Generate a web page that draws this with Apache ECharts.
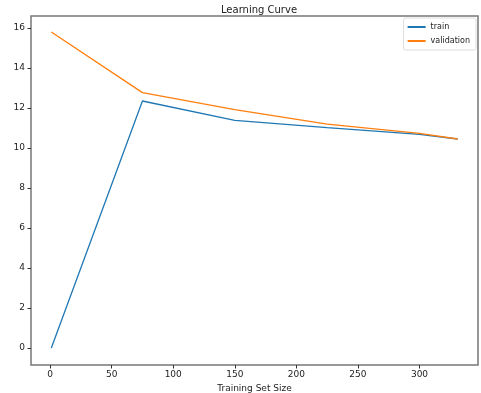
<!DOCTYPE html>
<html><head><meta charset="utf-8">
<script src="https://cdn.jsdelivr.net/npm/echarts@6/dist/echarts.min.js"></script>
<style>html,body{margin:0;padding:0;background:#fff}#c{width:481px;height:393px}</style>
</head><body><div id="c"></div>
<script>
const trainSizes = [1, 75, 150, 225, 300, 331];
const trainRMSE = [0, 12.35, 11.38, 11.02, 10.68, 10.45];
const validationRMSE = [15.8, 12.77, 11.92, 11.19, 10.73, 10.45];
const xTicks = [0, 50, 100, 150, 200, 250, 300];
const yTicks = [0, 2, 4, 6, 8, 10, 12, 14, 16];

const chart = echarts.init(document.getElementById('c'));
const font = 'DejaVu Sans';
chart.setOption({
  animation: false,
  title: {text: 'Learning Curve', left: 254, top: 0, textAlign: 'center',
    textStyle: {fontFamily: font, fontSize: 10, fontWeight: 'normal', color: '#222'}},
  legend: {right: 5, top: 18, orient: 'vertical', itemWidth: 18, itemHeight: 2, itemGap: 6,
    icon: 'rect', backgroundColor: '#fff', borderColor: '#ddd', borderWidth: 1, borderRadius: 2,
    padding: [5, 6, 5, 4],
    textStyle: {fontFamily: font, fontSize: 8, color: '#222'},
    data: ['train', 'validation']},
  grid: {left: 31, right: 3, top: 16, bottom: 28, outerBoundsMode: 'none', containLabel: false,
    show: true, borderColor: '#777', borderWidth: 1.5},
  xAxis: {type: 'value', min: -15.5, max: 347.5,
    name: 'Training Set Size', nameLocation: 'middle', nameGap: 14,
    nameTextStyle: {fontFamily: font, fontSize: 9, color: '#222'},
    axisLine: {show: false, onZero: false}, splitLine: {show: false},
    axisTick: {show: true, length: 3.5, inside: false, customValues: xTicks, lineStyle: {color: '#333'}},
    axisLabel: {customValues: xTicks, fontFamily: font, fontSize: 9, color: '#222', margin: 5}},
  yAxis: {type: 'value', min: -0.85, max: 16.6,
    name: 'RMSE', nameLocation: 'middle', nameGap: 23, nameRotate: 90,
    nameTextStyle: {fontFamily: font, fontSize: 9, color: '#222'},
    axisLine: {show: false, onZero: false}, splitLine: {show: false},
    axisTick: {show: true, length: 3.5, inside: false, customValues: yTicks, lineStyle: {color: '#333'}},
    axisLabel: {customValues: yTicks, fontFamily: font, fontSize: 9, color: '#222', margin: 6}},
  series: [
    {name: 'train', type: 'line', data: trainSizes.map((x, i) => [x, trainRMSE[i]]),
      showSymbol: false, symbol: 'none', color: '#1f77b4', lineStyle: {width: 1.3, color: '#1f77b4'}},
    {name: 'validation', type: 'line', data: trainSizes.map((x, i) => [x, validationRMSE[i]]),
      showSymbol: false, symbol: 'none', color: '#ff7f0e', lineStyle: {width: 1.3, color: '#ff7f0e'}}
  ]
});
</script></body></html>
